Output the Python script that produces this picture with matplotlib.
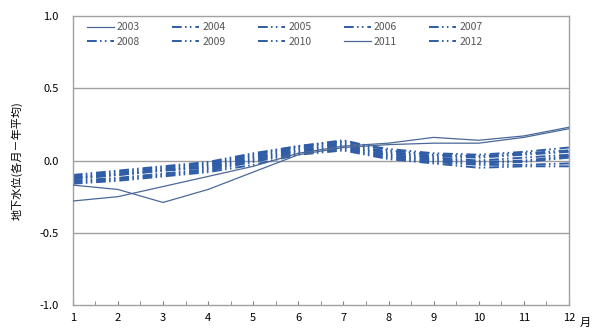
import numpy as np
import matplotlib.pyplot as plt

plt.rcParams['font.family'] = ['Noto Sans CJK JP', 'DejaVu Sans']

months = np.arange(1, 13)

# monthly groundwater level minus annual mean (m)
y2003 = [-0.28, -0.25, -0.18, -0.11, -0.04, 0.05, 0.10, 0.12, 0.16, 0.14, 0.17, 0.23]
y2004 = [-0.10, -0.07, -0.04, -0.01, 0.05, 0.10, 0.13, 0.08, 0.05, 0.04, 0.06, 0.09]
y2005 = [-0.12, -0.09, -0.06, -0.03, 0.03, 0.09, 0.12, 0.06, 0.03, 0.02, 0.04, 0.06]
y2006 = [-0.13, -0.10, -0.07, -0.04, 0.02, 0.08, 0.11, 0.05, 0.02, 0.00, 0.02, 0.04]
y2007 = [-0.11, -0.08, -0.05, -0.02, 0.04, 0.10, 0.14, 0.07, 0.04, 0.03, 0.05, 0.07]
y2008 = [-0.14, -0.12, -0.09, -0.06, 0.00, 0.06, 0.09, 0.03, 0.00, -0.02, -0.01, 0.02]
y2009 = [-0.15, -0.13, -0.10, -0.07, -0.01, 0.05, 0.08, 0.02, -0.01, -0.03, -0.03, -0.02]
y2010 = [-0.16, -0.14, -0.11, -0.08, -0.03, 0.04, 0.07, 0.01, -0.02, -0.05, -0.04, -0.04]
y2011 = [-0.17, -0.20, -0.29, -0.20, -0.08, 0.04, 0.09, 0.11, 0.12, 0.12, 0.16, 0.22]
y2012 = [-0.12, -0.10, -0.07, -0.05, 0.01, 0.07, 0.10, 0.04, 0.01, -0.01, 0.00, 0.03]

years = ['2003', '2004', '2005', '2006', '2007', '2008', '2009', '2010', '2011', '2012']
series = [y2003, y2004, y2005, y2006, y2007, y2008, y2009, y2010, y2011, y2012]
solid_years = ['2003', '2011']

fig = plt.figure(figsize=(5.92, 3.32), dpi=100)
ax = fig.add_axes([0.123, 0.081, 0.838, 0.871])

# long dash, dot, dot
dash_pat = (0, (5.0, 1.7, 0.8, 1.7, 0.8, 2.0))
handles = {}
for yr, vals in zip(years, series):
    if yr in solid_years:
        h, = ax.plot(months, vals, color='#4a6898', lw=0.9, label=yr, zorder=3)
    else:
        h, = ax.plot(months, vals, color='#2f5ca6', lw=1.4, ls=dash_pat,
                     label=yr, zorder=2)
    handles[yr] = h

for y in [0.5, 0.0, -0.5]:
    ax.axhline(y, color='#a0a0a0', lw=1.0, zorder=1)

ax.set_xlim(1, 12)
ax.set_ylim(-1.0, 1.0)
ax.set_xticks(months)
ax.set_xticks(np.arange(1.5, 12, 1.0), minor=True)
ax.set_yticks([-1.0, -0.5, 0.0, 0.5, 1.0])
ax.set_yticklabels(['-1.0', '-0.5', '0.0', '0.5', '1.0'])
ax.tick_params(axis='x', which='both', direction='in', length=3, color='#808080',
               labelsize=8, pad=6)
ax.tick_params(axis='y', length=0, labelsize=8, pad=10)
for s in ax.spines.values():
    s.set_color('#a0a0a0')
    s.set_linewidth(1.0)

ax.set_ylabel('地下水位(各月－年平均)', fontsize=8, labelpad=12)
ax.text(1.022, -0.06, '月', transform=ax.transAxes, fontsize=8, ha='left', va='center')

# legend filled row by row: 2003-2007 on top, 2008-2012 below
order = ['2003', '2008', '2004', '2009', '2005', '2010', '2006', '2011', '2007', '2012']
leg = ax.legend([handles[y] for y in order], order, ncol=5, loc='upper left',
                bbox_to_anchor=(0.015, 1.0), frameon=False, fontsize=7.5,
                handlelength=2.6, handletextpad=0.3, columnspacing=3.1,
                labelspacing=0.45, borderaxespad=0.2)
for t in leg.get_texts():
    t.set_color('#555555')

fig.savefig('out.png', dpi=100)
